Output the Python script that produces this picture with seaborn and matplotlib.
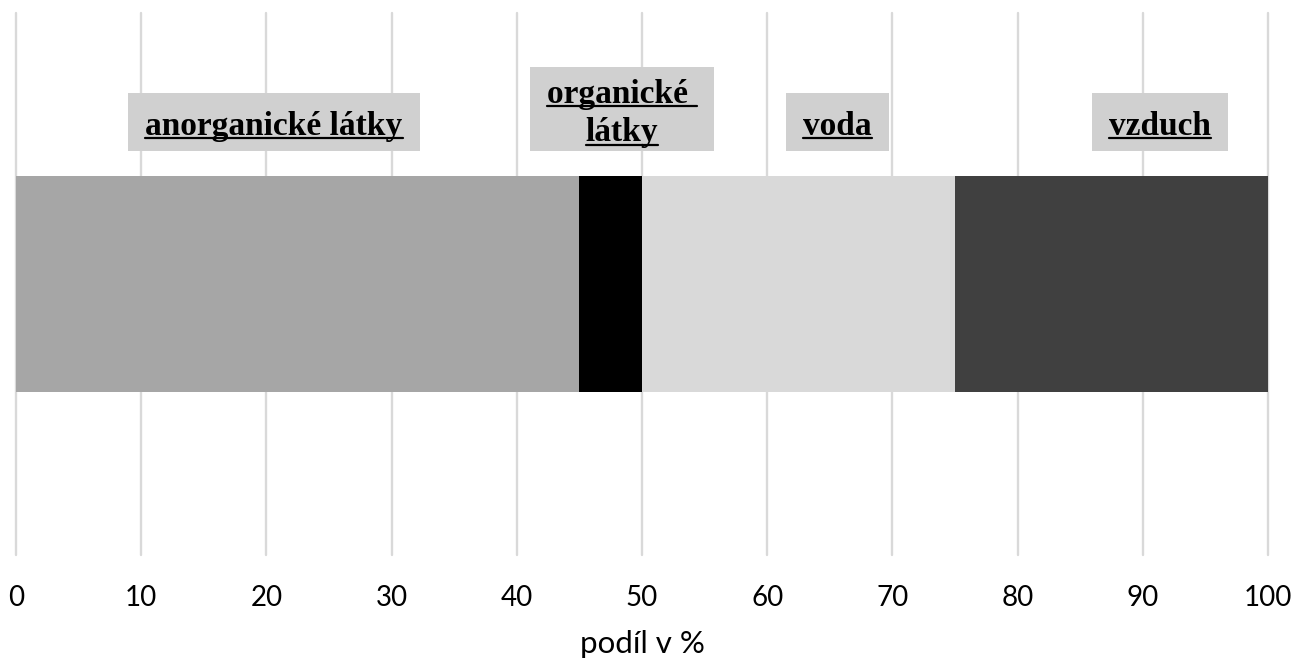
import matplotlib
matplotlib.use("Agg")
import numpy as np
import matplotlib.pyplot as plt
import seaborn as sns
from matplotlib.patches import Rectangle
from matplotlib.lines import Line2D
from matplotlib.transforms import blended_transform_factory

# Composition of soil (share in %)
components = ["anorganické látky", "organické látky", "voda", "vzduch"]
shares = [45, 5, 25, 25]
segment_colors = ["#a6a6a6", "#000000", "#d9d9d9", "#404040"]
label_lines = [["anorganické látky"], ["organické ", "látky"], ["voda"], ["vzduch"]]
x_ticks = [0, 10, 20, 30, 40, 50, 60, 70, 80, 90, 100]
x_title = "podíl v %"

# label box centres along the value axis
label_x = [20.6, 48.4, 65.6, 91.4]

W, H = 1294, 663
sns.set_theme(style="white")
plt.rcParams["font.family"] = ["Lato", "DejaVu Sans"]

fig = plt.figure(figsize=(W / 100, H / 100), dpi=100)
ax = fig.add_axes([16 / W, 1 - 555 / H, 1252 / W, 542 / H])

# stacked bar: overlay cumulative totals, longest first
ends = np.cumsum(shares)
for end, color in reversed(list(zip(ends, segment_colors))):
    sns.barplot(x=[end], y=[""], orient="h", color=color, width=0.4,
                saturation=1, errorbar=None, linewidth=0, ax=ax)

ax.set_xlim(0, 100)
ax.set_ylim(0.5, -0.5)
ax.set_xticks(x_ticks)
ax.set_xticklabels([str(t) for t in x_ticks], fontsize=20, color="black")
ax.set_yticks([])
ax.set_ylabel("")
ax.set_xlabel(x_title, fontsize=22.5, color="black", labelpad=14)
ax.tick_params(axis="x", length=0, pad=21.5)
for s in ax.spines.values():
    s.set_visible(False)
ax.set_axisbelow(True)
ax.xaxis.grid(True, color="#d9d9d9", linewidth=1.7)
for gl in ax.get_xgridlines():
    gl.set_clip_on(False)

# category labels: grey boxes with bold underlined serif text
fig.canvas.draw()
renderer = fig.canvas.get_renderer()
trans = blended_transform_factory(ax.transData, fig.transFigure)
line_step = 39
box_bottom = 151
for lines, cx in zip(label_lines, label_x):
    n = len(lines)
    box_h = 58 + (n - 1) * 26
    centre = box_bottom - box_h / 2
    texts = []
    for i, ln in enumerate(lines):
        base = centre + 13 + (i - (n - 1) / 2) * line_step
        t = ax.text(cx, 1 - base / H, ln, transform=trans, ha="center", va="baseline",
                    family="Liberation Serif", weight="bold", fontsize=24,
                    color="black", zorder=6, clip_on=False)
        texts.append((t, base))
    fig.canvas.draw()
    width = 0
    for t, base in texts:
        ext = t.get_window_extent(renderer)
        width = max(width, ext.width)
        yline = H - base - 3
        ax.add_artist(Line2D([ext.x0 / W, ext.x1 / W], [yline / H, yline / H],
                             transform=fig.transFigure, color="black",
                             linewidth=1.6, zorder=7, clip_on=False))
    cx_px = ax.transData.transform((cx, 0))[0]
    box_w = width + 34
    ax.add_patch(Rectangle(((cx_px - box_w / 2) / W, 1 - box_bottom / H),
                           box_w / W, box_h / H, transform=fig.transFigure,
                           facecolor="#d0d0d0", edgecolor="none",
                           zorder=5, clip_on=False))

fig.savefig("out.png", dpi=100)
